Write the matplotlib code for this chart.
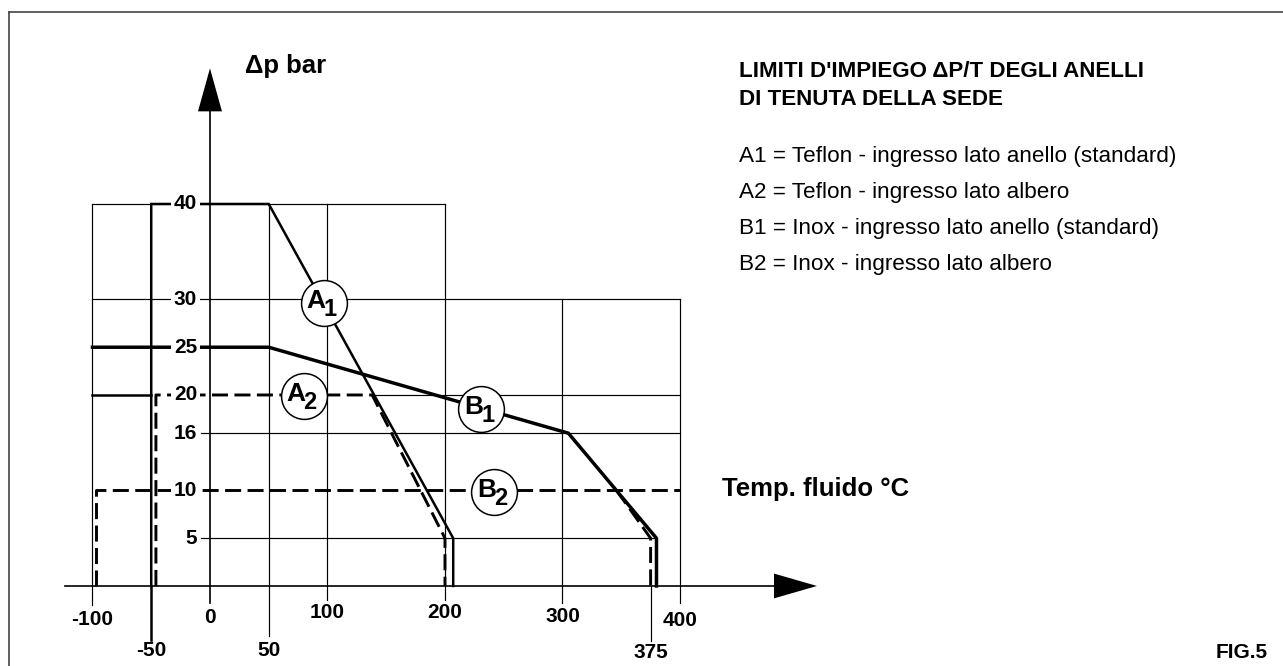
import matplotlib.pyplot as plt
from matplotlib.lines import Line2D

plt.rcParams['font.family'] = ['Liberation Sans', 'DejaVu Sans']

# --- data (temperature degC, pressure bar) ---
a1_t = [-50, -50, 50, 207, 207]
a1_p = [0, 40, 40, 5, 0]
a2_t = [-46, -46, 138, 200, 200]
a2_p = [0, 20, 20, 5, 0]
b1_t = [-100, 50, 305, 380, 380]
b1_p = [25, 25, 16, 5, 0]
b2_t = [-97, -97, 400]
b2_p = [0, 10, 10]
b2_end_t = [346, 375, 375]
b2_end_p = [10, 5, 0]

y_ticks = [40, 30, 25, 20, 16, 10, 5]
x_ticks_top = [-100, 0, 100, 200, 300, 400]
x_ticks_low = [-50, 50, 375]

curve_labels = ['A', 'A', 'B', 'B']
curve_subs = ['1', '2', '1', '2']
label_t = [97, 80, 231, 242]
label_p = [29.6, 19.9, 18.5, 9.85]

legend_lines = [
    "A1 = Teflon - ingresso lato anello (standard)",
    "A2 = Teflon - ingresso lato albero",
    "B1 = Inox - ingresso lato anello (standard)",
    "B2 = Inox - ingresso lato albero",
]

W, H = 1283, 666
fig = plt.figure(figsize=(W / 100, H / 100), dpi=100)
ax = fig.add_axes([0, 0, 1, 1])
ax.set_xlim(-178.7, 913.2)
ax.set_ylim(-8.38, 61.36)
ax.axis('off')

thin = 0.85
med = 1.8
thick = 2.5
dash = (5.5, 2.2)

# horizontal grid lines
ax.plot([-100, 200], [40, 40], color='black', lw=thin, zorder=1)
ax.plot([-100, 400], [30, 30], color='black', lw=thin, zorder=1)
ax.plot([-100, -50], [20, 20], color='black', lw=med, zorder=1)
ax.plot([137, 400], [20, 20], color='black', lw=thin, zorder=1)
ax.plot([-8, 400], [16, 16], color='black', lw=thin, zorder=1)
ax.plot([-8, 380], [5, 5], color='black', lw=thin, zorder=1)

# vertical grid lines / ticks below the axis
v_pos = [-100, 50, 100, 200, 300, 400]
v_top = [40, 40, 40, 40, 30, 30]
v_bot = [-2.0, -5.2, -1.5, -1.5, -1.8, -1.8]
for t, top, bot in zip(v_pos, v_top, v_bot):
    ax.plot([t, t], [bot, top], color='black', lw=thin, zorder=1)
ax.plot([-50, -50], [-5.65, 0], color='black', lw=med, zorder=2)
ax.plot([375, 375], [-5.8, 0], color='black', lw=thin, zorder=1)

# axes with arrows
ax.plot([-123, 480], [0, 0], color='black', lw=1.2, zorder=2)
ax.plot([0, 0], [-1.8, 49.7], color='black', lw=1.2, zorder=2)
ax.fill([480, 516.6, 480], [-1.3, 0, 1.3], color='black', lw=0, zorder=2)
ax.fill([-10.2, 0, 10.2], [49.7, 54.2, 49.7], color='black', lw=0, zorder=2)

# limit curves
ax.plot(a1_t, a1_p, color='black', lw=med, zorder=2, solid_joinstyle='miter')
ax.plot(b1_t, b1_p, color='black', lw=thick, zorder=2, solid_joinstyle='miter')
ax.plot(a2_t, a2_p, color='black', lw=2.1, dashes=dash, zorder=2)
ax.plot(b2_t, b2_p, color='black', lw=2.1, dashes=dash, zorder=2)
ax.plot(b2_end_t, b2_end_p, color='black', lw=2.1, dashes=dash, zorder=2)

# tick labels
for p in y_ticks:
    ax.text(-11, p, str(p), ha='right', va='center', fontsize=15,
            fontweight='bold', zorder=3,
            bbox=dict(boxstyle='square,pad=0.12', fc='white', ec='none'))
top_y = [-3.5, -3.35, -2.8, -2.8, -3.2, -3.6]
for t, y in zip(x_ticks_top, top_y):
    ax.text(t, y, str(t), ha='center', va='center', fontsize=15,
            fontweight='bold')
low_y = [-6.8, -6.8, -7.0]
for t, y in zip(x_ticks_low, low_y):
    ax.text(t, y, str(t), ha='center', va='center', fontsize=15,
            fontweight='bold')

# circled curve names
for let, sub, t, p in zip(curve_labels, curve_subs, label_t, label_p):
    ax.plot(t, p, 'o', ms=33, mfc='white', mec='black', mew=1.1, zorder=4)
    ax.annotate(let, (t, p), xytext=(-5.5, 1.5), textcoords='offset points',
                ha='center', va='center', fontsize=19, fontweight='bold',
                zorder=5)
    ax.annotate(sub, (t, p), xytext=(4.5, -4.5), textcoords='offset points',
                ha='center', va='center', fontsize=17, fontweight='bold',
                zorder=5)

# axis names
fig.text(245 / W, 1 - 73 / H, "Δp bar", fontsize=18.5, fontweight='bold',
         ha='left', va='baseline')
fig.text(722 / W, 1 - 496 / H, "Temp. fluido °C", fontsize=18.5,
         fontweight='bold', ha='left', va='baseline')

# title and legend
fig.text(739 / W, 1 - 77 / H, "LIMITI D'IMPIEGO ΔP/T DEGLI ANELLI",
         fontsize=16.1, fontweight='bold', ha='left', va='baseline')
fig.text(739 / W, 1 - 105 / H, "DI TENUTA DELLA SEDE",
         fontsize=16.1, fontweight='bold', ha='left', va='baseline')
for i, line in enumerate(legend_lines):
    fig.text(739 / W, 1 - (162 + 36 * i) / H, line, fontsize=16.2,
             ha='left', va='baseline')

fig.text(1268 / W, 1 - 658 / H, "FIG.5", fontsize=15, fontweight='bold',
         ha='right', va='baseline')

# page frame (top and left edges)
fig.add_artist(Line2D([9 / W, 1], [1 - 12 / H, 1 - 12 / H], color='#444444',
                      lw=1.2))
fig.add_artist(Line2D([9 / W, 9 / W], [0, 1 - 12 / H], color='#444444',
                      lw=1.2))

fig.savefig('out.png', dpi=100, facecolor='white')
